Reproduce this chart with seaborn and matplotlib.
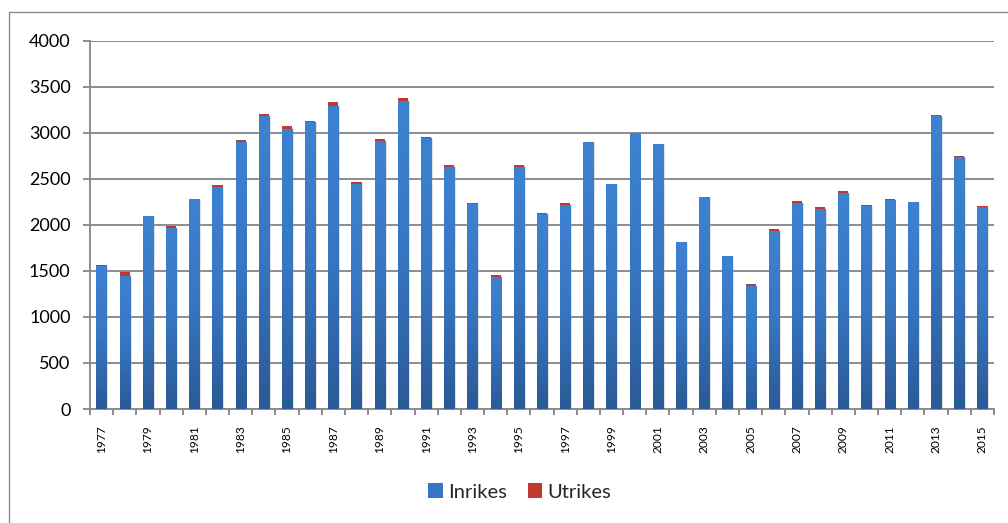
import numpy as np
import pandas as pd
import matplotlib
matplotlib.use("Agg")
import matplotlib.pyplot as plt
import matplotlib.patheffects as pe
import seaborn as sns
from matplotlib.colors import LinearSegmentedColormap
from matplotlib.patches import Patch
from matplotlib.lines import Line2D

# Antal per år, uppdelat på inrikes och utrikes
years = [str(y) for y in range(1977, 2016)]
inrikes = [1555, 1447, 2094, 1971, 2279, 2409, 2897, 3187, 3038, 3118,
           3291, 2445, 2908, 3342, 2941, 2626, 2224, 1432, 2626, 2116,
           2214, 2897, 2441, 2995, 2876, 1812, 2300, 1660, 1338, 1931,
           2235, 2170, 2344, 2206, 2268, 2246, 3187, 2734, 2192]
utrikes = [12, 40, 3, 15, 0, 22, 22, 14, 33, 11,
           40, 18, 22, 33, 11, 22, 11, 22, 22, 11,
           22, 0, 0, 0, 0, 0, 0, 0, 18, 22,
           22, 22, 22, 8, 11, 0, 11, 11, 11]
series_names = ["Inrikes", "Utrikes"]
y_ticks = [0, 500, 1000, 1500, 2000, 2500, 3000, 3500, 4000]

df = pd.DataFrame({"År": years, "Inrikes": inrikes, "Utrikes": utrikes})
df["Totalt"] = df["Inrikes"] + df["Utrikes"]

BLUE = "#3776C2"
BLUE_DARK = "#2B5A96"
BLUE_LIGHT = "#3D82D2"
RED = "#C0392F"
GRID = "#8C8C8C"

sns.set_theme(style="white")
plt.rcParams["font.family"] = ["Lato", "DejaVu Sans"]

W, H = 1008, 523
fig = plt.figure(figsize=(W / 100, H / 100), dpi=100)
ax = fig.add_axes([90 / W, 1 - 409 / H, (994 - 90) / W, (409 - 40.7) / H])

bar_w = 0.44
# Stapla: totalen i rött under, inrikes i blått ovanpå
sns.barplot(data=df, x="År", y="Totalt", color=RED, width=bar_w,
            saturation=1, errorbar=None, ax=ax, zorder=3)
sns.barplot(data=df, x="År", y="Inrikes", color=BLUE, width=bar_w,
            saturation=1, errorbar=None, ax=ax, zorder=3)

n = len(years)
red_bars = ax.patches[:n]
blue_bars = ax.patches[n:2 * n]

shadow = [pe.SimplePatchShadow(offset=(1.2, -0.8), shadow_rgbFace="#9a9a9a", alpha=0.15),
          pe.Normal()]
for p in red_bars:
    p.set_path_effects(shadow)
    p.set_edgecolor("none")

# Vertikal färgtoning i de blå staplarna
cmap = LinearSegmentedColormap.from_list("blå", [BLUE_DARK, BLUE, BLUE_LIGHT])
grad = np.linspace(0, 1, 256).reshape(-1, 1)
for p in blue_bars:
    p.set_edgecolor("none")
    p.set_path_effects(shadow)
    x0, y0 = p.get_x(), p.get_y()
    w, h = p.get_width(), p.get_height()
    im = ax.imshow(grad, cmap=cmap, origin="lower", aspect="auto",
                   extent=(x0, x0 + w, y0, y0 + h), zorder=3.5,
                   interpolation="bilinear")
    im.set_clip_path(p)

ax.set_xlim(-0.5, n - 0.5)
ax.set_ylim(0, 4000)

# Rutnät och axlar
ax.set_axisbelow(True)
ax.yaxis.grid(True, color=GRID, lw=1.4)
ax.xaxis.grid(False)
for side in ["top", "right"]:
    ax.spines[side].set_visible(False)
for side in ["left", "bottom"]:
    ax.spines[side].set_color(GRID)
    ax.spines[side].set_linewidth(1.4)

ax.set_yticks(y_ticks)
ax.set_yticklabels([str(v) for v in y_ticks])
ax.tick_params(axis="y", length=5, width=1.4, color=GRID, pad=9,
               labelsize=13, labelcolor="black", left=True)

major = list(range(0, n, 2))
ax.set_xticks(major)
ax.set_xticklabels([years[i] for i in major], rotation=90)
ax.set_xticks(np.arange(-0.5, n, 1.0), minor=True)
ax.tick_params(axis="x", which="major", length=0, pad=11.5,
               labelsize=8.6, labelcolor="black")
ax.tick_params(axis="x", which="minor", length=4.3, width=1.4,
               color=GRID, bottom=True)
ax.set_xlabel("")
ax.set_ylabel("")

handles = [Patch(facecolor=BLUE, edgecolor="none"),
           Patch(facecolor=RED, edgecolor="none")]
fig.legend(handles, series_names, loc="center",
           bbox_to_anchor=(520 / W, 1 - 492 / H), ncol=2, frameon=False,
           fontsize=14.5, handlelength=0.7, handleheight=0.7,
           handletextpad=0.3, columnspacing=1.0)

# Ram kring diagramytan
fig.add_artist(Line2D([9 / W, 9 / W], [0, 1 - 12 / H],
                      transform=fig.transFigure, color=GRID, lw=1))
fig.add_artist(Line2D([9 / W, 1], [1 - 12 / H, 1 - 12 / H],
                      transform=fig.transFigure, color=GRID, lw=1))

fig.savefig("out.png", dpi=100)
